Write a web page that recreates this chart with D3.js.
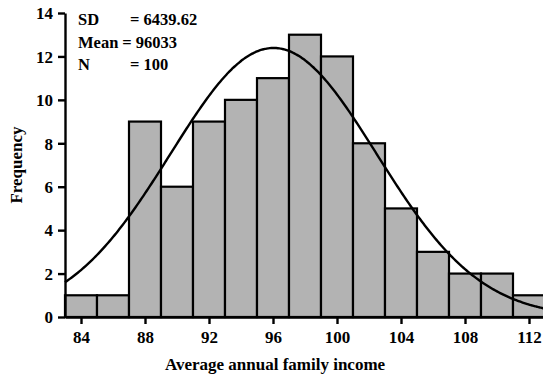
<!DOCTYPE html>
<html>
<head>
<meta charset="utf-8">
<script src="https://cdn.jsdelivr.net/npm/d3@7"></script>
<style>
  html, body { margin: 0; padding: 0; background: #fff; }
  svg { display: block; }
  text { font-family: "Liberation Serif", "Times New Roman", serif; fill: #000; font-weight: bold; }
</style>
</head>
<body>
<svg id="chart" width="543" height="381"></svg>
<script>
// Histogram bins (income in thousands), each 2 units wide
const binStarts = [83, 85, 87, 89, 91, 93, 95, 97, 99, 101, 103, 105, 107, 109, 111];
const binWidth = 2;
const frequencies = [1, 1, 9, 6, 9, 10, 11, 13, 12, 8, 5, 3, 2, 2, 1];

// Summary statistics printed in the corner
const statNames = ["SD", "Mean", "N"];
const statValues = ["= 6439.62", "= 96033", "= 100"];
const sdValue = 6439.62, meanValue = 96033, nValue = 100;

// Axis ticks
const xTicks = [84, 88, 92, 96, 100, 104, 108, 112];
const yTicks = [0, 2, 4, 6, 8, 10, 12, 14];

const FONT = '"Liberation Serif", "Times New Roman", serif';

const svg = d3.select("#chart");
const x = d3.scaleLinear().domain([83, 113]).range([65, 545]);
const y = d3.scaleLinear().domain([0, 14]).range([317, 13]);

// Bars
svg.append("g")
  .selectAll("rect")
  .data(frequencies)
  .join("rect")
  .attr("x", (d, i) => x(binStarts[i]))
  .attr("y", d => y(d))
  .attr("width", (d, i) => x(binStarts[i] + binWidth) - x(binStarts[i]))
  .attr("height", d => y(0) - y(d))
  .attr("fill", "#b3b3b3")
  .attr("stroke", "#000")
  .attr("stroke-width", 2.2);

// Normal curve fitted from the stated mean, SD and N (scaled to bin width)
const mu = meanValue / 1000, sigma = sdValue / 1000;
const curveXs = d3.range(83, 113.01, 0.1);
const density = v => nValue * binWidth / (sigma * Math.sqrt(2 * Math.PI)) *
  Math.exp(-0.5 * Math.pow((v - mu) / sigma, 2));
svg.append("path")
  .datum(curveXs)
  .attr("fill", "none")
  .attr("stroke", "#000")
  .attr("stroke-width", 2.4)
  .attr("d", d3.line().x(v => x(v)).y(v => y(density(v))).curve(d3.curveBasis));

// Axes
const xAxis = svg.append("g")
  .attr("transform", `translate(0,${y(0)})`)
  .call(d3.axisBottom(x).tickValues(xTicks).tickSize(7).tickSizeOuter(0).tickPadding(7));
const yAxis = svg.append("g")
  .attr("transform", `translate(${x(83)},0)`)
  .call(d3.axisLeft(y).tickValues(yTicks).tickSize(7).tickSizeOuter(0).tickPadding(5));

[xAxis, yAxis].forEach(g => {
  g.attr("font-family", null);
  g.select(".domain").attr("stroke", "#000").attr("stroke-width", 2.4);
  g.selectAll(".tick line").attr("stroke", "#000").attr("stroke-width", 2.4);
  g.selectAll(".tick text")
    .style("font-family", FONT)
    .style("font-size", "17px")
    .style("font-weight", "bold")
    .attr("fill", "#000");
});
yAxis.selectAll(".tick text").attr("dy", "0.34em");

// Axis titles
svg.append("text")
  .attr("x", 275)
  .attr("y", 370)
  .attr("text-anchor", "middle")
  .style("font-size", "17px")
  .text("Average annual family income");

svg.append("text")
  .attr("transform", `translate(22,${y(7)}) rotate(-90)`)
  .attr("text-anchor", "middle")
  .style("font-size", "17px")
  .text("Frequency");

// Statistics block: "Mean" is followed directly by its value,
// the shorter names use a tab stop further right
const stats = svg.append("g");
const tabStop = 130;
statNames.forEach((name, i) => {
  const nameNode = stats.append("text")
    .attr("x", 78).attr("y", 25 + i * 22.5)
    .style("font-size", "16.5px")
    .text(name);
  const after = 78 + nameNode.node().getComputedTextLength() + 4;
  stats.append("text")
    .attr("x", Math.max(after, name === "Mean" ? after : tabStop))
    .attr("y", 25 + i * 22.5)
    .style("font-size", "16.5px")
    .text(statValues[i]);
});
</script>
</body>
</html>
